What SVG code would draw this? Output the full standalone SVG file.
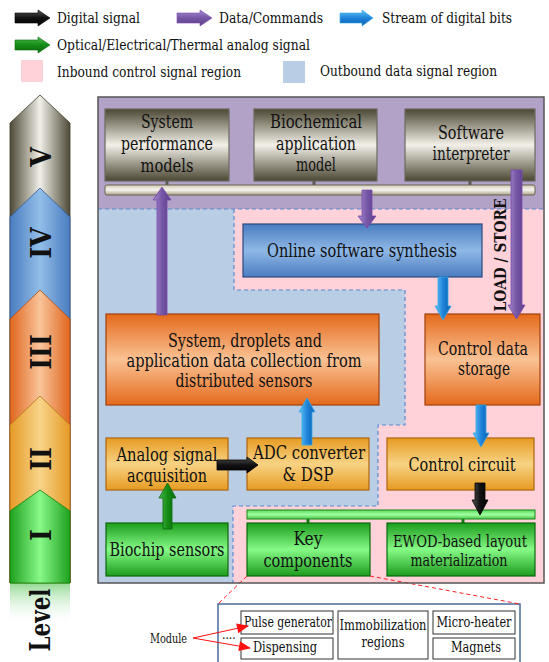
<svg xmlns="http://www.w3.org/2000/svg" width="549" height="662" viewBox="0 0 549 662">
<defs>
<style>
text{font-family:"DejaVu Serif","Liberation Serif",serif;font-stretch:condensed;fill:#111;}
.lg{font-size:15px;}
.bx{font-size:18px;text-anchor:middle;}
.sm{font-size:14px;text-anchor:middle;}
.num{font-size:28px;font-weight:bold;text-anchor:middle;}
.box{stroke-width:1.2;}
.stub{stroke-width:3;}
</style>
<linearGradient id="gGray" x1="0" y1="0" x2="0" y2="1"><stop offset="0" stop-color="#4b4733"/><stop offset="0.5" stop-color="#f2f0e8"/><stop offset="1" stop-color="#4b4733"/></linearGradient>
<linearGradient id="gBlue" x1="0" y1="0" x2="0" y2="1"><stop offset="0" stop-color="#4a7cc0"/><stop offset="0.5" stop-color="#8fb8e6"/><stop offset="1" stop-color="#4a7cc0"/></linearGradient>
<linearGradient id="gOrange" x1="0" y1="0" x2="0" y2="1"><stop offset="0" stop-color="#e46a1c"/><stop offset="0.5" stop-color="#fac294"/><stop offset="1" stop-color="#e46a1c"/></linearGradient>
<linearGradient id="gYellow" x1="0" y1="0" x2="0" y2="1"><stop offset="0" stop-color="#e69b22"/><stop offset="0.5" stop-color="#f8d384"/><stop offset="1" stop-color="#e69b22"/></linearGradient>
<linearGradient id="gGreen" x1="0" y1="0" x2="0" y2="1"><stop offset="0" stop-color="#1c9c1c"/><stop offset="0.5" stop-color="#86fa86"/><stop offset="1" stop-color="#1c9c1c"/></linearGradient>
<linearGradient id="gBus" x1="0" y1="0" x2="0" y2="1"><stop offset="0" stop-color="#d0ccb8"/><stop offset="0.5" stop-color="#f6f4ec"/><stop offset="1" stop-color="#aaa48a"/></linearGradient>
<linearGradient id="gGBar" x1="0" y1="0" x2="0" y2="1"><stop offset="0" stop-color="#5ad85a"/><stop offset="0.5" stop-color="#a0ffa0"/><stop offset="1" stop-color="#4ac84a"/></linearGradient>
<linearGradient id="aPurV" x1="0" y1="0" x2="1" y2="0"><stop offset="0" stop-color="#a68bd0"/><stop offset="0.5" stop-color="#7656a6"/><stop offset="1" stop-color="#5c3e8c"/></linearGradient>
<linearGradient id="aBlueV" x1="0" y1="0" x2="1" y2="0"><stop offset="0" stop-color="#64c4f4"/><stop offset="0.5" stop-color="#1f84da"/><stop offset="1" stop-color="#0b5eb0"/></linearGradient>
<linearGradient id="aBlackV" x1="0" y1="0" x2="1" y2="0"><stop offset="0" stop-color="#555"/><stop offset="0.5" stop-color="#111"/><stop offset="1" stop-color="#000"/></linearGradient>
<linearGradient id="aGreenV" x1="0" y1="0" x2="1" y2="0"><stop offset="0" stop-color="#4cbc4c"/><stop offset="0.5" stop-color="#168c16"/><stop offset="1" stop-color="#0a6a0a"/></linearGradient>
<linearGradient id="aPurH" x1="0" y1="0" x2="0" y2="1"><stop offset="0" stop-color="#a68bd0"/><stop offset="0.5" stop-color="#7656a6"/><stop offset="1" stop-color="#5c3e8c"/></linearGradient>
<linearGradient id="aBlueH" x1="0" y1="0" x2="0" y2="1"><stop offset="0" stop-color="#64c4f4"/><stop offset="0.5" stop-color="#1f84da"/><stop offset="1" stop-color="#0b5eb0"/></linearGradient>
<linearGradient id="aBlackH" x1="0" y1="0" x2="0" y2="1"><stop offset="0" stop-color="#555"/><stop offset="0.5" stop-color="#111"/><stop offset="1" stop-color="#000"/></linearGradient>
<linearGradient id="aGreenH" x1="0" y1="0" x2="0" y2="1"><stop offset="0" stop-color="#4cbc4c"/><stop offset="0.5" stop-color="#168c16"/><stop offset="1" stop-color="#0a6a0a"/></linearGradient>
<linearGradient id="cV" x1="0" y1="0" x2="1" y2="0"><stop offset="0" stop-color="#4d4a38"/><stop offset="0.5" stop-color="#f0eee6"/><stop offset="1" stop-color="#4d4a38"/></linearGradient>
<linearGradient id="cIV" x1="0" y1="0" x2="1" y2="0"><stop offset="0" stop-color="#4a7cc0"/><stop offset="0.5" stop-color="#92bee9"/><stop offset="1" stop-color="#4a7cc0"/></linearGradient>
<linearGradient id="cIII" x1="0" y1="0" x2="1" y2="0"><stop offset="0" stop-color="#e0661e"/><stop offset="0.5" stop-color="#f9c49a"/><stop offset="1" stop-color="#e0661e"/></linearGradient>
<linearGradient id="cII" x1="0" y1="0" x2="1" y2="0"><stop offset="0" stop-color="#e59a26"/><stop offset="0.5" stop-color="#f8d48a"/><stop offset="1" stop-color="#e59a26"/></linearGradient>
<linearGradient id="cI" x1="0" y1="0" x2="1" y2="0"><stop offset="0" stop-color="#1ea01e"/><stop offset="0.5" stop-color="#88f888"/><stop offset="1" stop-color="#1ea01e"/></linearGradient>
<linearGradient id="refl" x1="0" y1="0" x2="0" y2="1"><stop offset="0" stop-color="#3aba3a" stop-opacity="0.55"/><stop offset="1" stop-color="#ffffff" stop-opacity="0"/></linearGradient>
<marker id="redArr" viewBox="0 0 12 10" refX="11" refY="5" markerWidth="13" markerHeight="10" markerUnits="userSpaceOnUse" orient="auto"><path d="M0,0 L12,5 L0,10 Z" fill="#ff1010"/></marker>
</defs>

<!-- Legend -->
<g id="legend">
<polygon points="15,13 38,13 38,10 50,18 38,26 38,23 15,23" fill="url(#aBlackH)" stroke="#000" stroke-width="0.6"/>
<text class="lg" x="57" y="23" textLength="83" lengthAdjust="spacingAndGlyphs">Digital signal</text>
<polygon points="177,13 200,13 200,10 212,18 200,26 200,23 177,23" fill="url(#aPurH)" stroke="#7a4aaa" stroke-width="0.6"/>
<text class="lg" x="219" y="23" textLength="104" lengthAdjust="spacingAndGlyphs">Data/Commands</text>
<polygon points="340,13 362,13 362,10 373,18 362,26 362,23 340,23" fill="url(#aBlueH)" stroke="#30a8e8" stroke-width="0.6"/>
<text class="lg" x="382" y="23" textLength="130" lengthAdjust="spacingAndGlyphs">Stream of digital bits</text>
<polygon points="15,40 38,40 38,37 50,45 38,53 38,50 15,50" fill="url(#aGreenH)" stroke="#0a6a0a" stroke-width="0.6"/>
<text class="lg" x="57" y="50" textLength="253" lengthAdjust="spacingAndGlyphs">Optical/Electrical/Thermal analog signal</text>
<rect x="21" y="60" width="22" height="22" fill="#ffd1d9"/>
<text class="lg" x="57" y="77" textLength="184" lengthAdjust="spacingAndGlyphs">Inbound control signal region</text>
<rect x="283" y="61" width="22" height="22" fill="#b9cde5"/>
<text class="lg" x="320" y="76" textLength="177" lengthAdjust="spacingAndGlyphs">Outbound data signal region</text>
</g>

<!-- Level column -->
<g id="levels">
<polygon points="10,123 40,95 70,123 70,583 10,583" fill="url(#cV)" stroke="#3e3b2a" stroke-width="0.8"/>
<polygon points="10,217 40,188 70,217 70,583 10,583" fill="url(#cIV)" stroke="#2f5590" stroke-width="0.8"/>
<polygon points="10,319 40,290 70,319 70,583 10,583" fill="url(#cIII)" stroke="#b04a10" stroke-width="0.8"/>
<polygon points="10,425 40,396 70,425 70,583 10,583" fill="url(#cII)" stroke="#b87010" stroke-width="0.8"/>
<polygon points="10,511 40,490 70,511 70,583 10,583" fill="url(#cI)" stroke="#108010" stroke-width="0.8"/>
<rect x="10" y="583" width="60" height="42" fill="url(#refl)"/>
<text class="num" transform="translate(51,157) rotate(-90)">V</text>
<text class="num" transform="translate(51,243) rotate(-90)">IV</text>
<text class="num" transform="translate(51,352) rotate(-90)">III</text>
<text class="num" transform="translate(51,459) rotate(-90)">II</text>
<text class="num" transform="translate(51,535) rotate(-90)">I</text>
<text class="num" transform="translate(50,620) rotate(-90)" textLength="63" lengthAdjust="spacingAndGlyphs">Level</text>
</g>

<!-- Regions -->
<g id="regions">
<rect x="98" y="97" width="446" height="112" fill="#b3a2c7"/>
<polygon points="98,209 234,209 234,290 405,290 405,425 378,425 378,506 233,506 233,583 98,583" fill="#b9cde5"/>
<polygon points="234,209 544,209 544,583 233,583 233,506 378,506 378,425 405,425 405,290 234,290" fill="#ffd1d9"/>
<path d="M98,209 H544 M234,209 V290 H405 V425 H378 V506 H233 V583" fill="none" stroke="#5a8ad0" stroke-width="1.2" stroke-dasharray="4,3"/>
</g>

<!-- Nodes -->
<g id="sys-perf">
<rect class="box" x="105" y="109" width="124" height="72" fill="url(#gGray)" stroke="#6a6a60"/>
<text class="bx" x="167" y="128" textLength="52" lengthAdjust="spacingAndGlyphs">System</text>
<text class="bx" x="167" y="150" textLength="92" lengthAdjust="spacingAndGlyphs">performance</text>
<text class="bx" x="167" y="172" textLength="53" lengthAdjust="spacingAndGlyphs">models</text>
</g>
<g id="biochem">
<rect class="box" x="254" y="109" width="123" height="72" fill="url(#gGray)" stroke="#6a6a60"/>
<text class="bx" x="316" y="128" textLength="92" lengthAdjust="spacingAndGlyphs">Biochemical</text>
<text class="bx" x="316" y="150" textLength="80" lengthAdjust="spacingAndGlyphs">application</text>
<text class="bx" x="316" y="171" textLength="40" lengthAdjust="spacingAndGlyphs">model</text>
</g>
<g id="sw-interp">
<rect class="box" x="405" y="109" width="130" height="72" fill="url(#gGray)" stroke="#6a6a60"/>
<text class="bx" x="471" y="139" textLength="66" lengthAdjust="spacingAndGlyphs">Software</text>
<text class="bx" x="471" y="160" textLength="77" lengthAdjust="spacingAndGlyphs">interpreter</text>
</g>
<g id="bus">
<line class="stub" x1="167" y1="181" x2="167" y2="186" stroke="#5a5a55"/>
<line class="stub" x1="314" y1="181" x2="314" y2="186" stroke="#5a5a55"/>
<line class="stub" x1="470" y1="181" x2="470" y2="186" stroke="#5a5a55"/>
<rect x="105" y="185" width="430" height="10" rx="2" fill="url(#gBus)" stroke="#6a6550" stroke-width="1"/>
</g>
<g id="online">
<rect class="box" x="243" y="224" width="239" height="53" fill="url(#gBlue)" stroke="#2a4a80"/>
<text class="bx" x="362" y="257" textLength="190" lengthAdjust="spacingAndGlyphs">Online software synthesis</text>
</g>
<g id="collection">
<rect class="box" x="106" y="314" width="273" height="91" fill="url(#gOrange)" stroke="#a0400c"/>
<text class="bx" x="245" y="347" textLength="154" lengthAdjust="spacingAndGlyphs">System, droplets and</text>
<text class="bx" x="244" y="367" textLength="235" lengthAdjust="spacingAndGlyphs">application data collection from</text>
<text class="bx" x="244" y="387" textLength="137" lengthAdjust="spacingAndGlyphs">distributed sensors</text>
</g>
<g id="ctrl-storage">
<rect class="box" x="425" y="314" width="115" height="91" fill="url(#gOrange)" stroke="#a0400c"/>
<text class="bx" x="483" y="355" textLength="90" lengthAdjust="spacingAndGlyphs">Control data</text>
<text class="bx" x="484" y="375" textLength="52" lengthAdjust="spacingAndGlyphs">storage</text>
</g>
<g id="analog">
<rect class="box" x="106" y="438" width="122" height="52" fill="url(#gYellow)" stroke="#b0650c"/>
<text class="bx" x="167" y="461" textLength="101" lengthAdjust="spacingAndGlyphs">Analog signal</text>
<text class="bx" x="167" y="482" textLength="80" lengthAdjust="spacingAndGlyphs">acquisition</text>
</g>
<g id="adc">
<rect class="box" x="247" y="438" width="122" height="52" fill="url(#gYellow)" stroke="#b0650c"/>
<text class="bx" x="309" y="459" textLength="112" lengthAdjust="spacingAndGlyphs">ADC converter</text>
<text class="bx" x="308" y="481" textLength="51" lengthAdjust="spacingAndGlyphs">&amp; DSP</text>
</g>
<g id="ctrl-circuit">
<rect class="box" x="387" y="438" width="147" height="52" fill="url(#gYellow)" stroke="#b0650c"/>
<text class="bx" x="462" y="471" textLength="107" lengthAdjust="spacingAndGlyphs">Control circuit</text>
</g>
<g id="biochip">
<rect class="box" x="106" y="523" width="122" height="53" fill="url(#gGreen)" stroke="#0a6a0a"/>
<text class="bx" x="167" y="556" textLength="115" lengthAdjust="spacingAndGlyphs">Biochip sensors</text>
</g>
<g id="greenbus">
<line class="stub" x1="308" y1="518" x2="308" y2="524" stroke="#127a12"/>
<line class="stub" x1="463" y1="518" x2="463" y2="524" stroke="#127a12"/>
<rect x="247" y="510" width="288" height="9" fill="url(#gGBar)" stroke="#1a8a1a" stroke-width="1"/>
</g>
<g id="key">
<rect class="box" x="247" y="523" width="123" height="53" fill="url(#gGreen)" stroke="#0a6a0a"/>
<text class="bx" x="308" y="545" textLength="29" lengthAdjust="spacingAndGlyphs">Key</text>
<text class="bx" x="308" y="567" textLength="89" lengthAdjust="spacingAndGlyphs">components</text>
</g>
<g id="ewod">
<rect class="box" x="387" y="523" width="148" height="53" fill="url(#gGreen)" stroke="#0a6a0a"/>
<text class="bx" x="460" y="547" style="font-size:17px" textLength="134" lengthAdjust="spacingAndGlyphs">EWOD-based layout</text>
<text class="bx" x="459" y="566" style="font-size:17px" textLength="97" lengthAdjust="spacingAndGlyphs">materialization</text>
</g>

<!-- Module detail -->
<g id="module-box">
<rect x="218" y="604" width="302" height="70" fill="#fff" stroke="#4a6a9a" stroke-width="1.5"/>
<text x="222" y="639" style="font-size:12px">....</text>
<rect x="241" y="611" width="92" height="23" fill="#fff" stroke="#333" stroke-width="1"/>
<text class="sm" x="288" y="627" textLength="88" lengthAdjust="spacingAndGlyphs">Pulse generator</text>
<rect x="241" y="638" width="92" height="21" fill="#fff" stroke="#333" stroke-width="1"/>
<text class="sm" x="285" y="652" textLength="64" lengthAdjust="spacingAndGlyphs">Dispensing</text>
<rect x="338" y="611" width="90" height="48" fill="#fff" stroke="#333" stroke-width="1"/>
<text class="sm" x="383" y="630" textLength="87" lengthAdjust="spacingAndGlyphs">Immobilization</text>
<text class="sm" x="383" y="647" textLength="43" lengthAdjust="spacingAndGlyphs">regions</text>
<rect x="433" y="611" width="82" height="23" fill="#fff" stroke="#333" stroke-width="1"/>
<text class="sm" x="474" y="627" textLength="75" lengthAdjust="spacingAndGlyphs">Micro-heater</text>
<rect x="433" y="638" width="82" height="21" fill="#fff" stroke="#333" stroke-width="1"/>
<text class="sm" x="476" y="652" textLength="50" lengthAdjust="spacingAndGlyphs">Magnets</text>
</g>
<g id="module-label">
<text x="150" y="643" style="font-size:12px" textLength="37" lengthAdjust="spacingAndGlyphs">Module</text>
</g>

<!-- Connectors -->
<g id="connectors">
<polygon points="157,315 157,200 153,200 162,187 171,200 167,200 167,315" fill="url(#aPurV)" stroke="#7a4aaa" stroke-width="0.8"/>
<polygon points="362,190 372,190 372,216 376,216 367,228 358,216 362,216" fill="url(#aPurV)" stroke="#7a4aaa" stroke-width="0.8"/>
<polygon points="511,170 522,170 522,305 525,305 516.5,319 508,305 511,305" fill="url(#aPurV)" stroke="#7a4aaa" stroke-width="0.8"/>
<polygon points="438,277 448,277 448,306 451,306 443,320 435,306 438,306" fill="url(#aBlueV)" stroke="#30a8e8" stroke-width="0.8"/>
<polygon points="302,445 302,412 299,412 307,398 315,412 312,412 312,445" fill="url(#aBlueV)" stroke="#30a8e8" stroke-width="0.8"/>
<polygon points="476,405 486,405 486,433 489,433 481,447 473,433 476,433" fill="url(#aBlueV)" stroke="#30a8e8" stroke-width="0.8"/>
<polygon points="475,483 485,483 485,500 488,500 480,515 472,500 475,500" fill="url(#aBlackV)" stroke="#000" stroke-width="0.8"/>
<polygon points="217,460 247,460 247,457 258,465 247,473 247,470 217,470" fill="url(#aBlackH)" stroke="#000" stroke-width="0.8"/>
<polygon points="163,529 163,498 159,498 167.5,483 176,498 172,498 172,529" fill="url(#aGreenV)" stroke="#0a6a0a" stroke-width="0.8"/>
<text transform="translate(506,255) rotate(-90)" style="font-size:17px;font-weight:bold;text-anchor:middle" textLength="113" lengthAdjust="spacingAndGlyphs">LOAD / STORE</text>
<path d="M247,576 L218,604 M370,576 L520,604" fill="none" stroke="#ff2020" stroke-width="1" stroke-dasharray="4,3"/>
<line x1="193" y1="638" x2="248" y2="626" stroke="#ff1010" stroke-width="1" marker-end="url(#redArr)"/>
<line x1="193" y1="638" x2="250" y2="648" stroke="#ff1010" stroke-width="1" marker-end="url(#redArr)"/>
</g>

<!-- Frame -->
<rect x="98" y="97" width="446" height="486" fill="none" stroke="#555" stroke-width="1.5"/>
</svg>
